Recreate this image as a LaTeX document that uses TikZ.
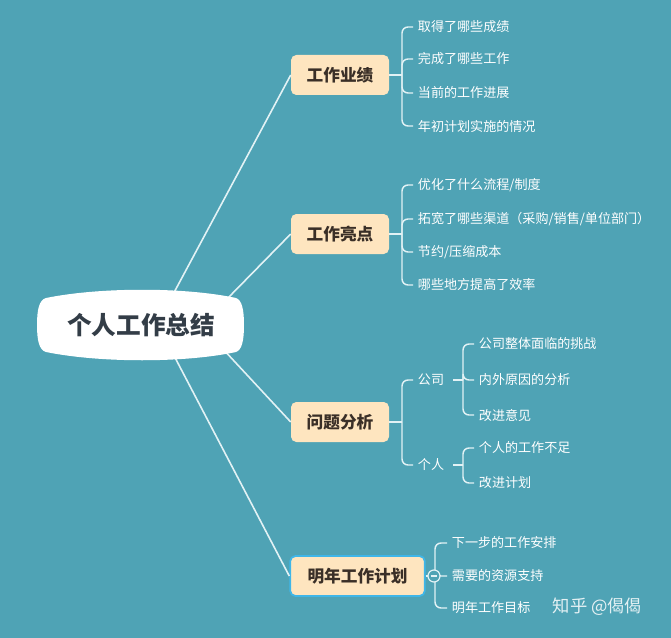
\documentclass[tikz,border=0pt]{standalone}
\usepackage{fontspec}
\setmainfont{Noto Sans CJK SC}
\newfontfamily\cjk{Noto Sans CJK SC}
\definecolor{bgc}{HTML}{4FA3B5}
\definecolor{linec}{HTML}{E2F2F5}
\definecolor{branchfill}{HTML}{FEE5BF}
\definecolor{branchtext}{HTML}{3A2F27}
\definecolor{roottext}{HTML}{333D47}
\definecolor{selc}{HTML}{3FB6E8}
\begin{document}
\begin{tikzpicture}[x=0.75pt,y=-0.75pt,
  mainline/.style={draw=linec,line width=1.2pt},
  brline/.style={draw=linec,line width=1.1pt,rounded corners=4.5pt},
  branch/.style={fill=branchfill,rounded corners=4pt,minimum width=73.5pt,minimum height=30pt,
    font=\cjk\bfseries\fontsize{12.5}{14}\selectfont,text=branchtext,inner sep=0pt},
  leaf/.style={anchor=west,inner xsep=3.5pt,inner ysep=1pt,text=white,
    font=\cjk\fontsize{9.8}{11}\selectfont},
  sub/.style={anchor=west,inner xsep=3.5pt,inner ysep=1pt,text=white,
    font=\cjk\fontsize{9.8}{11}\selectfont}
]
\fill[bgc] (0,0) rectangle (671,638);
\useasboundingbox (0,0) rectangle (671,638);

% branch nodes
\node[branch] (b1) at (340,75) {工作业绩};
\node[branch] (b2) at (340,234) {工作亮点};
\node[branch] (b3) at (340,422) {问题分析};
\node[branch,minimum width=101pt,draw=selc,line width=1.3pt] (b4) at (357.5,576) {明年工作计划};

% main connector start points (inside root shape)
\coordinate (s1) at (170,300);
\coordinate (s2) at (226,300);
\coordinate (s3) at (222,348);
\coordinate (s4) at (170,348);
\draw[mainline] (s1) -- (b1.west);
\draw[mainline] (s2) -- (b2.west);
\draw[mainline] (s3) -- (b3.west);
\draw[mainline] (s4) -- (b4.west);

% root
\fill[white] (46,298) .. controls (100,287) and (185,287) .. (236,298)
  .. controls (242,300) and (244,310) .. (244,325)
  .. controls (244,340) and (242,350) .. (236,352)
  .. controls (185,363) and (100,363) .. (46,352)
  .. controls (39,350) and (37,340) .. (37,325)
  .. controls (37,310) and (39,300) .. (46,298) -- cycle;
\node[font=\cjk\bfseries\fontsize{18.5}{20}\selectfont,text=roottext] (root) at (141,325) {个人工作总结};

% leaves of b1
\node[leaf] (l11) at (413,27) {取得了哪些成绩};
\node[leaf] (l12) at (413,59) {完成了哪些工作};
\node[leaf] (l13) at (413,93) {当前的工作进展};
\node[leaf] (l14) at (413,126) {年初计划实施的情况};
\coordinate (j1) at (402,75);
\draw[brline] (b1.east) -- (j1);
\foreach \n in {l11,l12,l13,l14} \draw[brline] (j1) |- (\n.west);

% leaves of b2
\node[leaf] (l21) at (413,185) {优化了什么流程/制度};
\node[leaf] (l22) at (413,219) {拓宽了哪些渠道（采购/销售/单位部门）};
\node[leaf] (l23) at (413,252) {节约/压缩成本};
\node[leaf] (l24) at (413,285) {哪些地方提高了效率};
\coordinate (j2) at (402,234);
\draw[brline] (b2.east) -- (j2);
\foreach \n in {l21,l22,l23,l24} \draw[brline] (j2) |- (\n.west);

% b3 sub-branches
\node[sub] (c1) at (413,380) {公司};
\node[sub] (c2) at (413,465) {个人};
\coordinate (j3) at (402,422);
\draw[brline] (b3.east) -- (j3);
\foreach \n in {c1,c2} \draw[brline] (j3) |- (\n.west);

\node[leaf] (l31) at (474,344) {公司整体面临的挑战};
\node[leaf] (l32) at (474,380) {内外原因的分析};
\node[leaf] (l33) at (474,415) {改进意见};
\coordinate (j31) at (463,380);
\draw[brline] ([xshift=3pt]c1.east) -- (j31);
\foreach \n in {l31,l32,l33} \draw[brline] (j31) |- (\n.west);

\node[leaf] (l34) at (474,448) {个人的工作不足};
\node[leaf] (l35) at (474,483) {改进计划};
\coordinate (j32) at (463,465);
\draw[brline] ([xshift=3pt]c2.east) -- (j32);
\foreach \n in {l34,l35} \draw[brline] (j32) |- (\n.west);

% b4 leaves
\node[leaf] (l41) at (447,543) {下一步的工作安排};
\node[leaf] (l42) at (447,576) {需要的资源支持};
\node[leaf] (l43) at (447,608) {明年工作目标};
\coordinate (j4) at (435,576);
\draw[brline] (b4.east) -- (j4);
\foreach \n in {l41,l42,l43} \draw[brline] (j4) |- (\n.west);
\node[circle,draw=linec,fill=bgc,line width=0.9pt,minimum size=9pt,inner sep=0pt] (col) at (434,576) {};
\draw[draw=linec,line width=0.9pt] ([xshift=-2.6pt]col.center) -- ([xshift=2.6pt]col.center);

% watermark
\node[anchor=west,text=white,opacity=0.85,font=\cjk\fontsize{13}{14}\selectfont] (wm) at (548,607) {知乎 @偈偈};
\end{tikzpicture}
\end{document}
